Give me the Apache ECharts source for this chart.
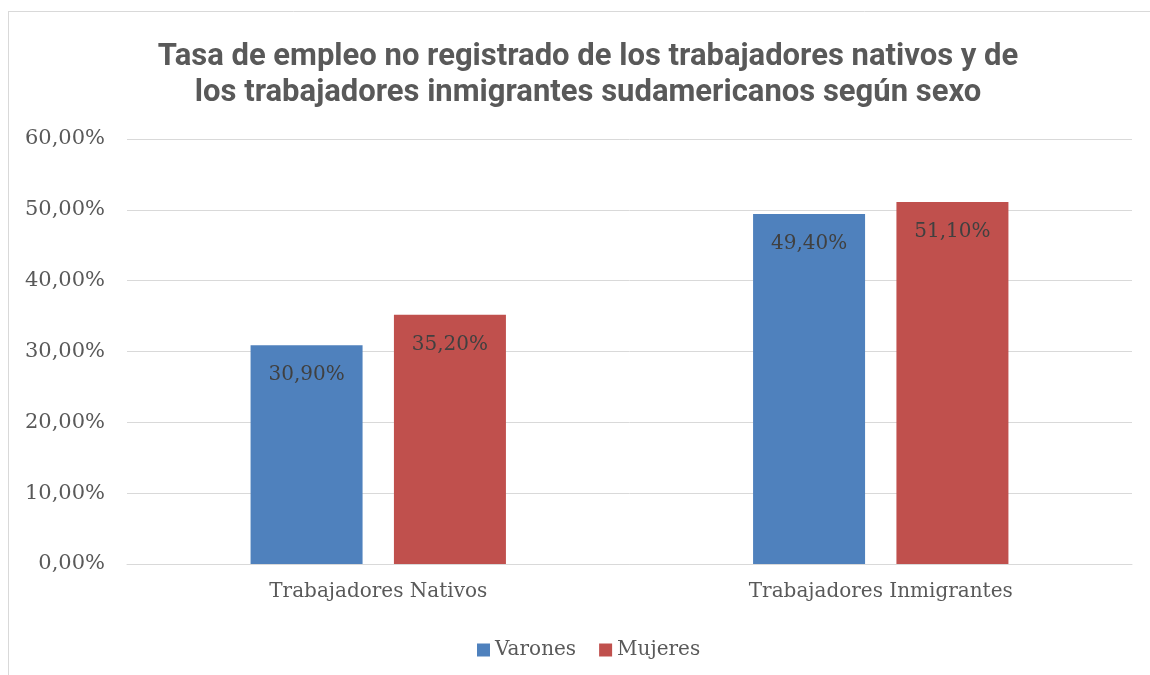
<!DOCTYPE html>
<html>
<head>
<meta charset="utf-8">
<script src="https://cdn.jsdelivr.net/npm/echarts@6/dist/echarts.min.js"></script>
<style>
  html, body { margin: 0; padding: 0; background: #fff; }
  #chart { width: 1150px; height: 675px; }
</style>
</head>
<body>
<div id="chart"></div>
<script>
  let categories = ['Trabajadores Nativos', 'Trabajadores Inmigrantes']
  let varones = [30.9, 49.4]
  let mujeres = [35.2, 51.1]
  let yTicks = { min: 0, max: 60, interval: 10 }

  let serif = '"DejaVu Serif", serif'
  let fmt = v => v.toFixed(2).replace('.', ',') + '%'

  let myChart = echarts.init(document.getElementById('chart'))
  let option = {
    backgroundColor: '#fff',
    title: {
      text: 'Tasa de empleo no registrado de los trabajadores nativos y de\nlos trabajadores inmigrantes sudamericanos según sexo',
      left: 583,
      top: 34,
      textAlign: 'center',
      textStyle: {
        fontFamily: 'Roboto, sans-serif',
        fontWeight: 'bold',
        fontSize: 31,
        lineHeight: 36,
        color: '#595959'
      }
    },
    graphic: [
      { type: 'line', shape: { x1: 8, y1: 11.5, x2: 1150, y2: 11.5 }, style: { stroke: '#d9d9d9', lineWidth: 1 } },
      { type: 'line', shape: { x1: 8.5, y1: 11, x2: 8.5, y2: 675 }, style: { stroke: '#d9d9d9', lineWidth: 1 } }
    ],
    grid: {
      left: 127,
      right: 18,
      top: 139,
      bottom: 111
    },
    legend: {
      data: ['Varones', 'Mujeres'],
      left: 472,
      top: 635,
      itemWidth: 13,
      itemHeight: 13,
      itemGap: 23,
      icon: 'rect',
      textStyle: {
        fontFamily: serif,
        fontSize: 20,
        color: '#595959'
      }
    },
    xAxis: {
      type: 'category',
      data: categories,
      axisTick: { show: false },
      axisLine: { lineStyle: { color: '#d9d9d9', width: 1 } },
      axisLabel: {
        fontFamily: serif,
        fontSize: 20,
        color: '#595959',
        margin: 18
      }
    },
    yAxis: {
      type: 'value',
      min: yTicks.min,
      max: yTicks.max,
      interval: yTicks.interval,
      axisLine: { show: false },
      axisTick: { show: false },
      splitLine: { lineStyle: { color: '#d9d9d9', width: 1 } },
      axisLabel: {
        fontFamily: serif,
        fontSize: 21,
        color: '#595959',
        margin: 22,
        formatter: fmt
      }
    },
    series: [
      {
        name: 'Varones',
        type: 'bar',
        data: varones,
        barWidth: 112,
        barGap: '28%',
        itemStyle: { color: '#4f81bd' },
        label: {
          show: true,
          position: 'insideTop',
          distance: 20,
          fontFamily: serif,
          fontSize: 20,
          color: '#404040',
          formatter: p => fmt(p.value)
        }
      },
      {
        name: 'Mujeres',
        type: 'bar',
        data: mujeres,
        barWidth: 112,
        itemStyle: { color: '#c0504d' },
        label: {
          show: true,
          position: 'insideTop',
          distance: 20,
          fontFamily: serif,
          fontSize: 20,
          color: '#404040',
          formatter: p => fmt(p.value)
        }
      }
    ]
  }
  myChart.setOption(option)
</script>
</body>
</html>
